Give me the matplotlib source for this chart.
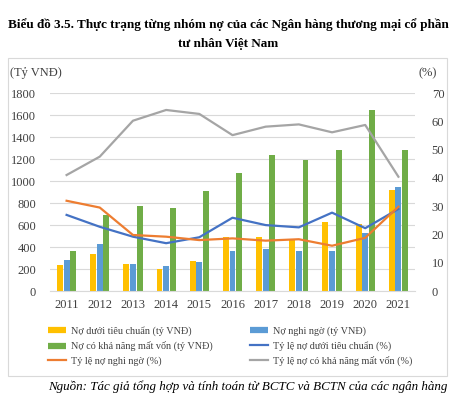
import matplotlib
matplotlib.use("Agg")
import matplotlib.pyplot as plt
from matplotlib.lines import Line2D
from matplotlib.patches import Rectangle
import numpy as np

# data
years = ["2011", "2012", "2013", "2014", "2015", "2016",
         "2017", "2018", "2019", "2020", "2021"]
no_duoi_tc = [240, 335, 250, 200, 275, 490, 494, 466, 630, 612, 918]
no_nghi_ngo = [285, 430, 250, 225, 265, 360, 380, 364, 360, 530, 945]
no_mat_von = [365, 695, 775, 755, 910, 1070, 1240, 1195, 1278, 1648, 1284]
tl_duoi_tc = [26.9, 22.7, 19.2, 16.9, 19.0, 25.9, 23.3, 22.5, 27.7, 22.2, 29.0]
tl_nghi_ngo = [31.9, 29.5, 19.8, 19.2, 18.0, 18.6, 17.8, 18.3, 16.0, 18.8, 29.8]
tl_mat_von = [41.0, 47.5, 60.2, 64.0, 62.6, 55.1, 58.1, 58.9, 56.1, 58.7, 40.4]

plt.rcParams["font.family"] = ["Liberation Serif", "DejaVu Serif"]

W, H = 457, 397
fig = plt.figure(figsize=(W / 100, H / 100), dpi=100)

# chart frame
fig.patches.append(Rectangle((8 / W, 1 - 376 / H), 439 / W, 318 / H,
                             transform=fig.transFigure, fill=False,
                             edgecolor="#D9D9D9", linewidth=0.8))

ax1 = fig.add_axes([50 / W, 1 - 291 / H, 365 / W, 198 / H])
ax2 = ax1.twinx()

x = np.arange(len(years))
w = 0.18
ax1.bar(x - 0.2, no_duoi_tc, w, color="#FFC000", zorder=2)
ax1.bar(x, no_nghi_ngo, w, color="#5B9BD5", zorder=2)
ax1.bar(x + 0.2, no_mat_von, w, color="#70AD47", zorder=2)

ax2.plot(x, tl_duoi_tc, color="#4472C4", lw=1.6)
ax2.plot(x, tl_nghi_ngo, color="#ED7D31", lw=1.6)
ax2.plot(x, tl_mat_von, color="#A5A5A5", lw=1.6)

ax1.set_xlim(-0.5, len(years) - 0.5)
ax1.set_ylim(0, 1800)
ax1.set_yticks(range(0, 1801, 200))
ax2.set_ylim(0, 70)
ax2.set_yticks(range(0, 71, 10))
ax1.set_xticks(x)
ax1.set_xticklabels(years)

ax1.grid(axis="y", color="#D9D9D9", lw=0.8, zorder=0)
for a in (ax1, ax2):
    for s in a.spines.values():
        s.set_visible(False)
    a.tick_params(length=0, labelsize=9, colors="#404040")
ax1.spines["bottom"].set_visible(True)
ax1.spines["bottom"].set_color("#D9D9D9")
ax1.tick_params(axis="y", pad=10)
ax1.tick_params(axis="x", pad=6)
ax2.tick_params(axis="y", pad=12)

fig.text(10 / W, 1 - 73 / H, "(Tỷ VNĐ)", fontsize=9, color="#404040", va="center")
fig.text(437 / W, 1 - 73 / H, "(%)", fontsize=9, color="#404040", va="center", ha="right")

# title
fig.text(0.5, 1 - 25 / H, "Biểu đồ 3.5. Thực trạng từng nhóm nợ của các Ngân hàng thương mại cổ phần",
         ha="center", va="center", fontsize=9.45, fontweight="bold")
fig.text(0.5, 1 - 44 / H, "tư nhân Việt Nam",
         ha="center", va="center", fontsize=9.45, fontweight="bold")

# legend
handles = [
    Line2D([], [], color="#FFC000", lw=4.5, solid_capstyle="butt"),
    Line2D([], [], color="#70AD47", lw=4.5, solid_capstyle="butt"),
    Line2D([], [], color="#ED7D31", lw=1.6),
    Line2D([], [], color="#5B9BD5", lw=4.5, solid_capstyle="butt"),
    Line2D([], [], color="#4472C4", lw=1.6),
    Line2D([], [], color="#A5A5A5", lw=1.6),
]
labels = [
    "Nợ dưới tiêu chuẩn (tỷ VNĐ)",
    "Nợ có khả năng mất vốn (tỷ VNĐ)",
    "Tỷ lệ nợ nghi ngờ (%)",
    "Nợ nghi ngờ (tỷ VNĐ)",
    "Tỷ lệ nợ dưới tiêu chuẩn (%)",
    "Tỷ lệ nợ có khả năng mất vốn (%)",
]
leg = fig.legend(handles, labels, ncol=2, loc="upper left",
                 bbox_to_anchor=(39 / W, 1 - 317 / H), frameon=False,
                 fontsize=7.3, handlelength=1.8, handletextpad=0.5,
                 columnspacing=3.6, labelspacing=0.5)
for t in leg.get_texts():
    t.set_color("#404040")

fig.text(447 / W, 1 - 387 / H,
         "Nguồn: Tác giả tổng hợp và tính toán từ BCTC và BCTN của các ngân hàng",
         ha="right", va="center", fontsize=9.35, style="italic")

fig.savefig("out.png", dpi=100)
